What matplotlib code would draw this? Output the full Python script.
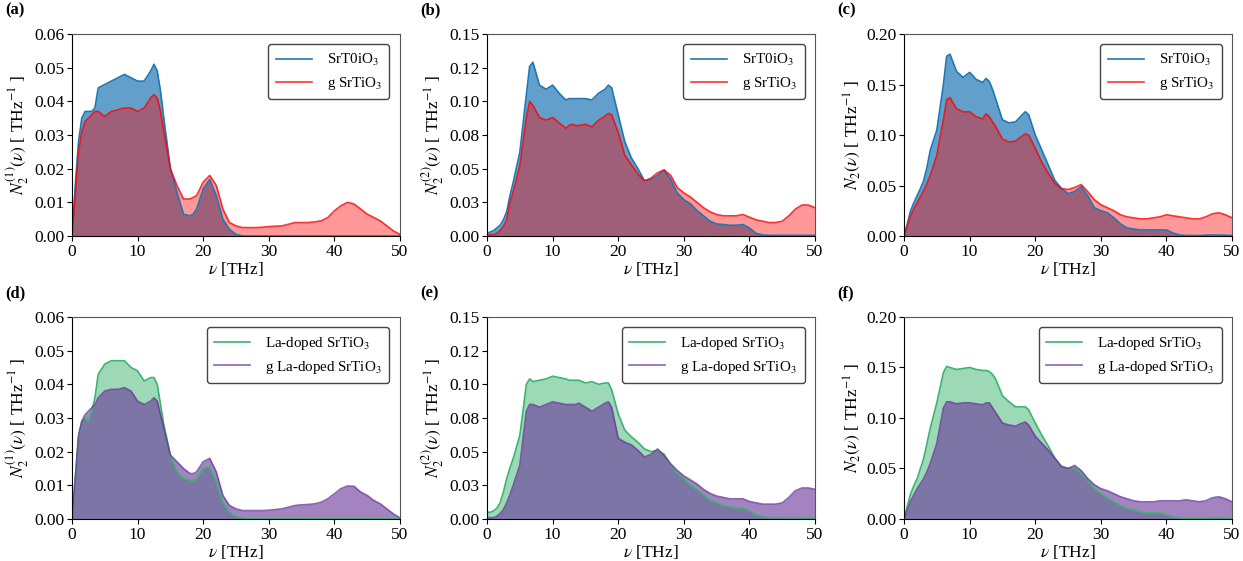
import numpy as np
import matplotlib
matplotlib.use("Agg")
import matplotlib.pyplot as plt

plt.rcParams['font.family'] = ['Liberation Serif', 'DejaVu Serif']
plt.rcParams['mathtext.fontset'] = 'stix'

# common frequency grid (THz)
freq = [0, 0.5, 1, 1.5, 2, 2.5, 3, 3.5, 4,
        5, 6, 6.5, 7, 8, 9, 10, 11, 12, 12.5, 13, 13.5, 14,
        15, 16, 17, 18, 18.5, 19, 20,
        21, 22, 23, 24, 25, 26, 27, 28, 29, 30,
        31, 32, 33, 34, 35, 36, 37, 38, 39, 40,
        41, 42, 43, 44, 45, 46, 47, 48, 49, 50]

# (a) N2^(1)
a_pure = ([0, 0.015, 0.028, 0.035, 0.037, 0.037, 0.037, 0.038, 0.044] +
          [0.045, 0.046, 0.0465, 0.047, 0.048, 0.047, 0.046, 0.046, 0.049, 0.051, 0.049, 0.043, 0.035] +
          [0.020, 0.013, 0.0065, 0.006, 0.0065, 0.008, 0.014] +
          [0.0168, 0.012, 0.005, 0.002, 0.0005, 0, 0, 0, 0, 0] +
          [0] * 10 + [0] * 10)
a_g = ([0, 0.012, 0.025, 0.031, 0.034, 0.035, 0.036, 0.037, 0.037] +
       [0.0355, 0.037, 0.0372, 0.0375, 0.038, 0.038, 0.037, 0.038, 0.041, 0.042, 0.041, 0.037, 0.031] +
       [0.020, 0.015, 0.011, 0.011, 0.0115, 0.012, 0.016] +
       [0.018, 0.015, 0.008, 0.004, 0.003, 0.0025, 0.0025, 0.0025, 0.0026, 0.0028] +
       [0.0029, 0.003, 0.0035, 0.004, 0.004, 0.004, 0.0042, 0.0045, 0.0055, 0.0075] +
       [0.009, 0.010, 0.0095, 0.008, 0.0065, 0.0055, 0.0045, 0.003, 0.0015, 0.0005])

# (b) N2^(2)
b_pure = ([0.002, 0.003, 0.004, 0.006, 0.008, 0.012, 0.018, 0.030, 0.040] +
          [0.062, 0.105, 0.126, 0.129, 0.112, 0.109, 0.112, 0.106, 0.101, 0.102, 0.102, 0.102, 0.102] +
          [0.102, 0.101, 0.106, 0.109, 0.112, 0.110, 0.090] +
          [0.070, 0.058, 0.050, 0.041, 0.042, 0.045, 0.049, 0.042, 0.032, 0.027] +
          [0.024, 0.019, 0.015, 0.011, 0.009, 0.0085, 0.008, 0.008, 0.0085, 0.006] +
          [0.002, 0.0008, 0.0005, 0.0005, 0.0005, 0.0005, 0.0005, 0.0005, 0.0005, 0.0005])
b_g = ([0.0005, 0.001, 0.001, 0.002, 0.004, 0.007, 0.012, 0.025, 0.033] +
       [0.052, 0.088, 0.100, 0.097, 0.088, 0.086, 0.088, 0.084, 0.080, 0.082, 0.083, 0.082, 0.082] +
       [0.083, 0.081, 0.086, 0.089, 0.091, 0.090, 0.077] +
       [0.060, 0.053, 0.046, 0.041, 0.043, 0.047, 0.049, 0.045, 0.036, 0.032] +
       [0.029, 0.025, 0.021, 0.018, 0.016, 0.015, 0.015, 0.015, 0.016, 0.014] +
       [0.012, 0.011, 0.010, 0.010, 0.011, 0.015, 0.020, 0.023, 0.023, 0.021])

# (c) N2
c_pure = ([0, 0.012, 0.025, 0.033, 0.040, 0.047, 0.055, 0.068, 0.085] +
          [0.105, 0.150, 0.178, 0.180, 0.163, 0.157, 0.162, 0.155, 0.152, 0.156, 0.153, 0.145, 0.135] +
          [0.115, 0.112, 0.113, 0.120, 0.123, 0.120, 0.100] +
          [0.085, 0.070, 0.055, 0.047, 0.042, 0.044, 0.049, 0.040, 0.028, 0.025] +
          [0.023, 0.018, 0.012, 0.008, 0.007, 0.006, 0.006, 0.006, 0.006, 0.006] +
          [0.003, 0.001, 0.0005, 0.0005, 0.0005, 0.0008, 0.001, 0.001, 0.0008, 0.0005])
c_g = ([0, 0.010, 0.020, 0.027, 0.033, 0.039, 0.045, 0.052, 0.060] +
       [0.080, 0.115, 0.135, 0.137, 0.126, 0.123, 0.123, 0.118, 0.116, 0.121, 0.118, 0.113, 0.108] +
       [0.096, 0.093, 0.094, 0.099, 0.101, 0.100, 0.087] +
       [0.073, 0.062, 0.052, 0.047, 0.046, 0.048, 0.051, 0.044, 0.036, 0.031] +
       [0.028, 0.025, 0.021, 0.019, 0.018, 0.017, 0.017, 0.018, 0.019, 0.021] +
       [0.020, 0.019, 0.018, 0.017, 0.017, 0.019, 0.022, 0.023, 0.021, 0.018])

# (d) La-doped N2^(1)
d_la = ([0, 0.012, 0.024, 0.029, 0.030, 0.029, 0.032, 0.036, 0.043] +
        [0.046, 0.047, 0.047, 0.047, 0.047, 0.045, 0.044, 0.041, 0.042, 0.042, 0.040, 0.034, 0.028] +
        [0.019, 0.014, 0.012, 0.0115, 0.0115, 0.012, 0.015] +
        [0.0155, 0.011, 0.005, 0.002, 0.0008, 0.0003, 0, 0, 0, 0] +
        [0] * 10 + [0] * 10)
d_g = ([0, 0.012, 0.025, 0.029, 0.031, 0.032, 0.033, 0.034, 0.036] +
       [0.038, 0.0385, 0.0385, 0.0385, 0.039, 0.038, 0.035, 0.034, 0.035, 0.036, 0.035, 0.031, 0.027] +
       [0.019, 0.017, 0.015, 0.0135, 0.0135, 0.014, 0.017] +
       [0.018, 0.014, 0.007, 0.004, 0.003, 0.0025, 0.0025, 0.0025, 0.0025, 0.0026] +
       [0.0028, 0.003, 0.0035, 0.004, 0.0042, 0.0043, 0.0045, 0.005, 0.006, 0.0075] +
       [0.009, 0.0098, 0.0097, 0.008, 0.007, 0.0055, 0.0045, 0.003, 0.0015, 0.0003])

# (e) La-doped N2^(2)
e_la = ([0.005, 0.005, 0.006, 0.008, 0.012, 0.020, 0.030, 0.038, 0.045] +
        [0.062, 0.100, 0.104, 0.102, 0.103, 0.104, 0.106, 0.105, 0.104, 0.103, 0.103, 0.103, 0.103] +
        [0.101, 0.102, 0.100, 0.101, 0.101, 0.096, 0.078] +
        [0.066, 0.061, 0.057, 0.052, 0.050, 0.051, 0.048, 0.040, 0.034, 0.030] +
        [0.025, 0.022, 0.018, 0.014, 0.012, 0.010, 0.009, 0.008, 0.008, 0.006] +
        [0.003, 0.002, 0.001, 0.001, 0.001, 0.0008, 0.0008, 0.0008, 0.0005, 0.0005])
e_g = ([0.001, 0.001, 0.001, 0.002, 0.004, 0.007, 0.012, 0.018, 0.025] +
       [0.040, 0.080, 0.085, 0.085, 0.083, 0.085, 0.087, 0.086, 0.085, 0.085, 0.085, 0.085, 0.086] +
       [0.083, 0.080, 0.083, 0.086, 0.087, 0.083, 0.060] +
       [0.057, 0.055, 0.051, 0.046, 0.048, 0.052, 0.047, 0.041, 0.036, 0.032] +
       [0.029, 0.026, 0.022, 0.019, 0.017, 0.016, 0.015, 0.015, 0.015, 0.013] +
       [0.012, 0.011, 0.011, 0.011, 0.012, 0.016, 0.021, 0.023, 0.023, 0.022])

# (f) La-doped N2
f_la = ([0, 0.013, 0.025, 0.033, 0.040, 0.050, 0.060, 0.075, 0.090] +
        [0.115, 0.145, 0.151, 0.150, 0.148, 0.149, 0.150, 0.148, 0.147, 0.147, 0.146, 0.143, 0.138] +
        [0.122, 0.116, 0.111, 0.111, 0.111, 0.108, 0.095] +
        [0.083, 0.072, 0.060, 0.052, 0.050, 0.051, 0.045, 0.038, 0.030, 0.025] +
        [0.021, 0.017, 0.013, 0.010, 0.009, 0.007, 0.006, 0.006, 0.006, 0.004] +
        [0.002, 0.001, 0.0008, 0.0005, 0.0005, 0.0008, 0.001, 0.001, 0.0008, 0.0005])
f_g = ([0, 0.009, 0.018, 0.024, 0.030, 0.035, 0.040, 0.047, 0.055] +
       [0.075, 0.110, 0.116, 0.116, 0.114, 0.115, 0.115, 0.114, 0.113, 0.115, 0.115, 0.110, 0.105] +
       [0.095, 0.093, 0.092, 0.095, 0.096, 0.093, 0.082] +
       [0.075, 0.068, 0.060, 0.052, 0.050, 0.053, 0.048, 0.040, 0.034, 0.030] +
       [0.028, 0.025, 0.022, 0.020, 0.018, 0.017, 0.017, 0.017, 0.018, 0.018] +
       [0.018, 0.018, 0.019, 0.018, 0.017, 0.018, 0.021, 0.022, 0.020, 0.017])

panel_letters = ['(a)', '(b)', '(c)', '(d)', '(e)', '(f)']
ylabels = [r'$N_2^{(1)}(\nu)$ [ THz$^{-1}$ ]', r'$N_2^{(2)}(\nu)$ [ THz$^{-1}$ ]', r'$N_2(\nu)$ [ THz$^{-1}$ ]'] * 2
ymaxes = [0.06, 0.15, 0.20] * 2
yticks = [[0, 0.01, 0.02, 0.03, 0.04, 0.05, 0.06],
          [0, 0.025, 0.05, 0.075, 0.10, 0.125, 0.15],
          [0, 0.05, 0.10, 0.15, 0.20]] * 2
yticklabels = [['0.00', '0.01', '0.02', '0.03', '0.04', '0.05', '0.06'],
               ['0.00', '0.03', '0.05', '0.08', '0.10', '0.12', '0.15'],
               ['0.00', '0.05', '0.10', '0.15', '0.20']] * 2
xticks = [0, 10, 20, 30, 40, 50]
series_first = [a_pure, b_pure, c_pure, d_la, e_la, f_la]
series_second = [a_g, b_g, c_g, d_g, e_g, f_g]
labels_top = [r'SrT0iO$_3$', r'g SrTiO$_3$']
labels_bot = [r'La-doped SrTiO$_3$', r'g La-doped SrTiO$_3$']

fig = plt.figure(figsize=(12.43, 5.61), dpi=100)
lefts = [0.0579, 0.3918, 0.7273]
width = 0.2639
bottoms = [0.5793, 0.0749]
height = 0.3601

for i in range(6):
    row, col = divmod(i, 3)
    ax = fig.add_axes([lefts[col], bottoms[row], width, height])
    x = np.array(freq)
    y1 = np.array(series_first[i])
    y2 = np.array(series_second[i])
    if row == 0:
        c1, a1 = '#1f77b4', 0.7
        c2, a2 = 'red', 0.4
        labs = labels_top
    else:
        c1, a1 = 'mediumseagreen', 0.5
        c2, a2 = 'rebeccapurple', 0.6
        labs = labels_bot
    ax.fill_between(x, 0, y1, color=c1, alpha=a1, linewidth=0)
    ax.plot(x, y1, color=c1, lw=1.2, label=labs[0])
    ax.fill_between(x, 0, y2, color=c2, alpha=a2, linewidth=0)
    ax.plot(x, y2, color=c2, lw=1.2, alpha=0.75 if row == 1 else 0.8, label=labs[1])
    ax.set_xlim(0, 50)
    ax.set_ylim(0, ymaxes[i])
    ax.set_xticks(xticks)
    ax.set_yticks(yticks[i])
    ax.set_yticklabels(yticklabels[i])
    ax.tick_params(labelsize=12.5, pad=2)
    for sp in ('top', 'right'):
        ax.spines[sp].set_color('#555555')
    ax.set_xlabel(r'$\nu$ [THz]', fontsize=12.5, labelpad=0)
    ax.set_ylabel(ylabels[i], fontsize=12.5, labelpad=2)
    leg = ax.legend(loc='upper right', fontsize=10.8, handlelength=2.4,
                    handletextpad=1.0, borderpad=0.5, labelspacing=0.45,
                    borderaxespad=0.7,
                    fancybox=True, framealpha=1.0, edgecolor='#444444')
    fig.text(lefts[col] - 0.054, bottoms[row] + height + 0.028, panel_letters[i],
             fontsize=12, fontweight='bold', ha='left', va='bottom')

fig.savefig('out.png', dpi=100)
